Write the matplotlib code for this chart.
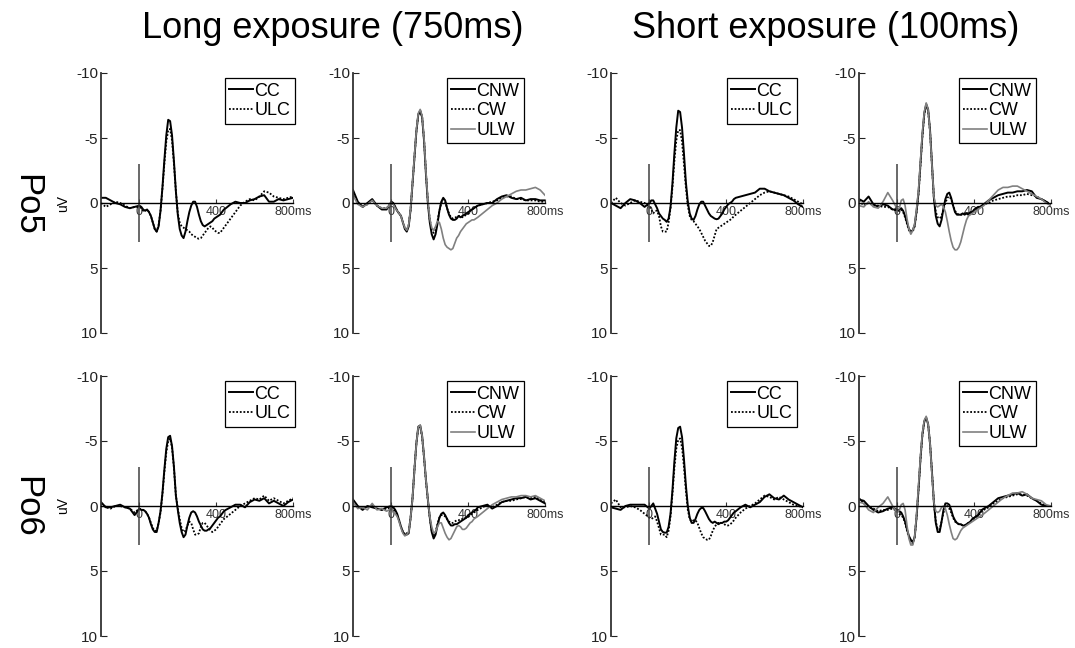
import matplotlib.pyplot as plt

plt.rcParams['font.family'] = ['Liberation Sans', 'DejaVu Sans']
plt.rcParams['axes.unicode_minus'] = False

# time axis of the grand averages (ms)
TIME_MS = [-200, -175, -150, -125, -100, -75, -50, -25,
           0, 10, 20, 30, 40, 50, 60, 70, 80, 90,
           100, 110, 120, 130, 140, 150, 160, 170, 180, 190,
           200, 210, 220, 230, 240, 250, 260, 270, 280, 290,
           300, 310, 320, 330, 340, 350, 360, 370, 380, 390,
           400, 410, 420, 430, 440, 450,
           475, 500, 525, 550, 575, 600, 625, 650, 675, 700, 725, 750, 775, 800]

# ---- Po5, long exposure ----
po5_long_cc = [-0.4, -0.4, -0.2, 0.0, 0.1, 0.3, 0.4, 0.3,
               0.2, 0.3, 0.5, 0.6, 0.5, 0.7, 1.0, 1.5, 2.0, 2.2,
               1.8, 0.6, -1.2, -3.3, -5.2, -6.4, -6.3, -5.2, -3.2, -0.9,
               0.9, 2.0, 2.5, 2.7, 2.2, 1.4, 0.7, 0.2, -0.1, -0.1,
               0.3, 0.9, 1.4, 1.7, 1.8, 1.7, 1.6, 1.5, 1.4, 1.2,
               1.1, 1.0, 0.9, 0.7, 0.5, 0.4,
               0.1, -0.1, 0.0, 0.0, -0.2, -0.3, -0.5, -0.6, -0.1, -0.1, -0.3, -0.2, -0.3, -0.4]
po5_long_ulc = [0.0, 0.3, 0.1, -0.1, 0.0, 0.2, 0.4, 0.3,
                0.3, 0.4, 0.6, 0.6, 0.5, 0.7, 1.0, 1.5, 2.0, 2.2,
                1.7, 0.6, -1.1, -3.0, -4.7, -5.6, -5.7, -4.8, -3.0, -0.9,
                0.8, 1.5, 1.8, 1.9, 2.0, 2.1, 2.2, 2.4, 2.5, 2.6,
                2.7, 2.75, 2.7, 2.5, 2.3, 2.1, 1.9, 1.8, 1.9, 2.1,
                2.2, 2.3, 2.3, 2.1, 1.9, 1.7,
                1.2, 0.7, 0.2, -0.1, -0.3, -0.2, -0.5, -0.9, -0.8, -0.5, -0.4, -0.3, -0.4, -0.5]
po5_long_cnw = [-1.0, -0.1, 0.3, 0.0, -0.3, 0.2, 0.5, 0.5,
                -0.1, 0.0, 0.3, 0.6, 0.8, 1.0, 1.5, 2.0, 2.2, 1.8,
                0.5, -1.5, -3.5, -5.5, -6.8, -7.1, -6.6, -4.8, -2.2, 0.0,
                1.5, 2.4, 2.8, 2.4, 1.6, 0.6, -0.1, -0.4, -0.2, 0.4,
                0.9, 1.2, 1.3, 1.3, 1.2, 1.0, 1.1, 1.0, 0.9, 0.8,
                0.7, 0.6, 0.5, 0.4, 0.3, 0.2,
                0.1, 0.0, 0.0, -0.3, -0.5, -0.6, -0.4, -0.3, -0.4, -0.2, -0.3, -0.3, -0.2, -0.2]
po5_long_cw = [-0.8, 0.0, 0.3, 0.1, -0.2, 0.2, 0.4, 0.4,
               0.0, 0.1, 0.3, 0.6, 0.8, 1.0, 1.5, 1.9, 2.1, 1.7,
               0.5, -1.5, -3.5, -5.5, -6.8, -7.1, -6.6, -4.9, -2.3, -0.1,
               1.3, 2.0, 2.3, 2.1, 1.4, 0.6, 0.0, -0.3, -0.1, 0.4,
               0.8, 1.1, 1.2, 1.1, 1.1, 1.0, 1.0, 1.1, 1.0, 0.9,
               0.8, 0.6, 0.5, 0.4, 0.3, 0.2,
               0.1, 0.0, -0.1, -0.2, -0.4, -0.5, -0.5, -0.3, -0.3, -0.2, -0.2, -0.2, -0.1, -0.1]
po5_long_ulw = [-0.6, 0.1, 0.3, 0.1, -0.2, 0.2, 0.4, 0.4,
                0.0, 0.1, 0.4, 0.6, 0.8, 1.0, 1.5, 1.9, 2.1, 1.7,
                0.4, -1.6, -3.6, -5.6, -6.9, -7.2, -6.7, -5.0, -2.4, -0.2,
                1.2, 1.9, 2.1, 1.8, 1.4, 1.5, 2.0, 2.7, 3.2, 3.4,
                3.5, 3.6, 3.5, 3.1, 2.7, 2.5, 2.2, 2.0, 1.8, 1.6,
                1.5, 1.4, 1.3, 1.3, 1.2, 1.1,
                0.8, 0.5, 0.2, 0.0, -0.3, -0.5, -0.7, -0.9, -1.0, -1.0, -1.1, -1.2, -1.0, -0.6]

# ---- Po5, short exposure ----
po5_short_cc = [0.0, 0.2, 0.4, 0.0, -0.3, -0.2, 0.0, 0.3,
                0.0, -0.2, -0.2, 0.1, 0.4, 0.8, 1.0, 1.2, 1.3, 1.45,
                1.2, 0.3, -1.5, -3.8, -5.8, -7.1, -7.0, -5.8, -3.8, -1.6,
                -0.1, 0.8, 1.2, 1.3, 1.0, 0.5, 0.1, -0.1, -0.1, 0.2,
                0.5, 0.8, 1.0, 1.1, 1.2, 1.25, 1.2, 1.0, 0.8, 0.5,
                0.3, 0.1, 0.0, -0.1, -0.3, -0.4,
                -0.5, -0.6, -0.7, -0.8, -1.1, -1.1, -0.9, -0.8, -0.7, -0.6, -0.4, -0.2, 0.1, 0.3]
po5_short_ulc = [0.0, -0.4, 0.0, 0.2, 0.0, -0.2, -0.1, 0.0,
                 0.3, 0.5, 0.8, 0.6, 0.6, 1.0, 1.8, 2.2, 2.2, 2.2,
                 1.5, 0.4, -1.2, -3.2, -4.8, -5.6, -5.6, -4.7, -3.0, -1.2,
                 0.2, 1.0, 1.3, 1.4, 1.6, 1.8, 2.0, 2.3, 2.6, 2.9,
                 3.1, 3.3, 3.3, 3.0, 2.5, 2.0, 1.9, 1.8, 1.7, 1.6,
                 1.5, 1.4, 1.3, 1.2, 1.0, 0.9,
                 0.6, 0.3, 0.0, -0.3, -0.6, -0.8, -0.9, -0.8, -0.7, -0.6, -0.5, -0.3, -0.1, 0.1]
po5_short_cnw = [-0.3, -0.1, -0.5, 0.1, 0.3, 0.1, 0.2, 0.5,
                 0.5, 0.5, 0.4, 0.6, 1.0, 1.5, 2.0, 2.2, 2.1, 1.7,
                 0.6, -0.8, -3.0, -5.2, -6.9, -7.6, -7.2, -5.6, -3.0, -0.4,
                 1.0, 1.6, 1.8, 1.3, 0.4, -0.3, -0.7, -0.8, -0.4, 0.2,
                 0.7, 0.9, 0.9, 0.9, 0.8, 0.9, 0.8, 0.9, 0.7, 0.7,
                 0.5, 0.4, 0.3, 0.3, 0.2, 0.1,
                 -0.2, -0.4, -0.6, -0.7, -0.8, -0.8, -0.9, -0.9, -1.0, -0.9, -0.4, -0.3, -0.1, 0.2]
po5_short_cw = [-0.2, 0.2, 0.0, 0.2, 0.2, 0.3, 0.3, 0.5,
                0.6, 0.6, 0.5, 0.7, 1.1, 1.6, 2.1, 2.3, 2.2, 1.8,
                0.7, -0.7, -2.9, -5.1, -6.8, -7.5, -7.1, -5.5, -2.9, -0.4,
                0.7, 1.1, 1.2, 1.0, 0.5, 0.0, -0.4, -0.5, -0.3, 0.2,
                0.6, 0.8, 0.9, 0.9, 0.9, 0.8, 0.9, 0.8, 0.8, 0.7,
                0.6, 0.5, 0.4, 0.3, 0.2, 0.1,
                0.0, -0.2, -0.3, -0.4, -0.5, -0.5, -0.6, -0.6, -0.7, -0.6, -0.5, -0.3, -0.1, 0.1]
po5_short_ulw = [0.2, 0.3, -0.1, 0.3, 0.4, -0.1, -0.8, -0.2,
                 0.5, 0.4, -0.2, -0.3, 0.2, 1.2, 2.0, 2.4, 2.1, 1.6,
                 0.4, -1.0, -3.2, -5.4, -7.0, -7.7, -7.2, -5.4, -2.9, -0.5,
                 0.2, 0.3, 0.2, 0.1, 0.3, 0.7, 1.4, 2.2, 2.9, 3.4,
                 3.6, 3.6, 3.4, 3.0, 2.4, 1.8, 1.3, 1.0, 0.9, 0.8,
                 0.7, 0.6, 0.5, 0.4, 0.3, 0.2,
                 -0.2, -0.6, -1.0, -1.2, -1.2, -1.3, -1.3, -1.1, -0.9, -0.7, -0.5, -0.3, 0.0, 0.2]

# ---- Po6, long exposure ----
po6_long_cc = [-0.3, 0.1, 0.1, 0.0, -0.1, 0.1, 0.2, 0.7,
               0.2, 0.3, 0.3, 0.4, 0.6, 0.9, 1.4, 1.8, 2.0, 2.0,
               1.3, 0.4, -1.0, -2.8, -4.4, -5.3, -5.4, -4.6, -3.0, -0.8,
               0.3, 1.3, 2.0, 2.4, 2.2, 1.5, 0.9, 0.5, 0.4, 0.5,
               0.8, 1.2, 1.5, 1.8, 1.9, 1.9, 1.8, 1.7, 1.5, 1.3,
               1.1, 0.9, 0.8, 0.6, 0.4, 0.3,
               0.1, -0.1, -0.1, 0.1, -0.3, -0.5, -0.4, -0.6, -0.2, -0.4, -0.2, 0.0, -0.3, -0.5]
po6_long_ulc = [-0.2, 0.1, 0.2, 0.0, 0.0, 0.1, 0.2, 0.5,
                0.2, 0.3, 0.3, 0.4, 0.6, 0.9, 1.3, 1.7, 1.9, 1.9,
                1.3, 0.5, -0.9, -2.6, -4.1, -5.0, -5.2, -4.5, -2.9, -0.8,
                0.2, 1.0, 1.7, 2.0, 1.9, 1.5, 1.2, 1.3, 1.8, 2.2,
                2.2, 2.1, 1.6, 1.3, 1.3, 1.5, 1.7, 1.9, 2.0, 1.9,
                1.8, 1.6, 1.4, 1.2, 1.0, 0.9,
                0.6, 0.3, 0.0, -0.2, -0.4, -0.6, -0.5, -0.8, -0.4, -0.6, -0.4, -0.2, -0.4, -0.6]
po6_long_cnw = [-0.5, 0.0, 0.3, 0.0, 0.1, 0.2, 0.3, 0.1,
                0.0, 0.1, 0.3, 0.6, 1.1, 1.6, 2.0, 2.2, 2.2, 2.1,
                0.9, -0.6, -2.8, -4.8, -6.1, -6.2, -5.4, -3.8, -2.0, -0.5,
                0.9, 2.0, 2.5, 2.2, 1.5, 0.9, 0.6, 0.5, 0.7, 1.0,
                1.3, 1.5, 1.5, 1.4, 1.4, 1.3, 1.2, 1.1, 1.0, 0.9,
                0.7, 0.6, 0.5, 0.4, 0.3, 0.1,
                0.0, -0.1, 0.2, 0.0, -0.3, -0.4, -0.5, -0.6, -0.6, -0.7, -0.5, -0.6, -0.4, -0.2]
po6_long_cw = [-0.4, 0.1, 0.2, 0.1, 0.0, 0.2, 0.3, 0.2,
               0.1, 0.2, 0.4, 0.7, 1.1, 1.6, 2.0, 2.2, 2.1, 2.0,
               0.9, -0.6, -2.8, -4.8, -6.0, -6.1, -5.3, -3.7, -1.9, -0.4,
               0.9, 1.9, 2.3, 2.0, 1.4, 0.9, 0.7, 0.7, 0.8, 1.0,
               1.2, 1.3, 1.3, 1.2, 1.1, 1.1, 1.0, 1.0, 0.9, 0.9,
               0.8, 0.7, 0.6, 0.5, 0.4, 0.3,
               0.1, -0.1, 0.1, -0.1, -0.3, -0.4, -0.4, -0.5, -0.6, -0.7, -0.6, -0.7, -0.5, -0.3]
po6_long_ulw = [-0.3, 0.2, 0.1, 0.3, -0.2, 0.3, 0.2, 0.4,
                0.2, 0.5, 0.6, 0.8, 1.2, 1.7, 2.1, 2.3, 2.2, 2.0,
                0.9, -0.6, -2.8, -4.8, -6.1, -6.2, -5.4, -3.8, -2.0, -0.5,
                0.8, 1.6, 2.1, 2.0, 1.6, 1.3, 1.3, 1.7, 2.1, 2.4,
                2.6, 2.5, 2.2, 1.9, 1.6, 1.5, 1.6, 1.8, 1.8, 1.7,
                1.5, 1.3, 1.2, 1.0, 0.9, 0.8,
                0.5, 0.2, -0.1, -0.3, -0.5, -0.6, -0.7, -0.7, -0.8, -0.8, -0.7, -0.8, -0.6, -0.4]

# ---- Po6, short exposure ----
po6_short_cc = [0.1, 0.2, 0.3, 0.0, -0.1, -0.1, -0.1, -0.1,
                0.2, 0.0, -0.2, 0.2, 0.6, 1.2, 1.8, 2.0, 2.05, 2.05,
                1.6, 0.6, -1.2, -3.4, -5.2, -6.0, -6.1, -5.3, -3.6, -1.6,
                0.0, 0.9, 1.3, 1.3, 1.0, 0.6, 0.3, 0.15, 0.15, 0.4,
                0.7, 1.0, 1.2, 1.3, 1.2, 1.3, 1.4, 1.3, 1.3, 1.2,
                1.2, 1.1, 0.9, 0.7, 0.5, 0.4,
                0.1, -0.1, 0.1, -0.1, -0.3, -0.7, -0.9, -0.6, -0.5, -0.8, -0.5, -0.3, -0.1, 0.1]
po6_short_ulc = [-0.2, -0.5, 0.1, 0.1, 0.0, 0.1, 0.3, 0.6,
                 0.9, 1.0, 0.9, 0.8, 1.2, 1.7, 2.2, 2.2, 2.2, 2.4,
                 1.9, 0.8, -0.9, -2.9, -4.4, -5.1, -5.2, -4.5, -3.0, -1.2,
                 0.3, 1.0, 1.2, 1.1, 1.1, 1.3, 1.7, 2.1, 2.4, 2.5,
                 2.6, 2.6, 2.3, 1.9, 1.6, 1.4, 1.3, 1.3, 1.3, 1.4,
                 1.5, 1.5, 1.4, 1.3, 1.1, 0.9,
                 0.5, 0.2, 0.0, -0.2, -0.5, -0.8, -0.7, -0.5, -0.7, -0.5, -0.3, -0.1, 0.0, 0.1]
po6_short_cnw = [-0.5, -0.4, 0.0, 0.3, 0.5, 0.4, 0.2, 0.1,
                 0.3, 0.4, 0.5, 0.8, 1.2, 1.8, 2.3, 2.6, 2.8, 2.4,
                 0.8, -1.3, -3.6, -5.5, -6.5, -6.8, -6.3, -4.8, -2.6, -0.3,
                 1.3, 2.0, 2.0, 1.2, 0.3, -0.2, -0.2, -0.1, 0.3, 0.8,
                 1.1, 1.3, 1.4, 1.4, 1.5, 1.5, 1.4, 1.3, 1.2, 1.0,
                 0.9, 0.8, 0.7, 0.5, 0.3, 0.2,
                 0.0, -0.3, -0.6, -0.7, -0.8, -0.9, -1.0, -0.8, -0.9, -0.6, -0.4, -0.1, 0.0, 0.0]
po6_short_cw = [-0.6, -0.2, 0.1, 0.2, 0.4, 0.3, 0.3, 0.2,
                0.4, 0.6, 0.7, 0.9, 1.3, 1.9, 2.4, 2.7, 2.9, 2.4,
                0.8, -1.3, -3.6, -5.4, -6.5, -6.8, -6.3, -4.8, -2.6, -0.3,
                1.2, 1.8, 1.8, 1.2, 0.5, 0.1, 0.0, 0.2, 0.5, 0.9,
                1.2, 1.3, 1.4, 1.4, 1.5, 1.5, 1.4, 1.3, 1.2, 1.1,
                1.0, 0.9, 0.7, 0.6, 0.4, 0.3,
                0.1, -0.2, -0.4, -0.6, -0.7, -0.8, -0.9, -0.9, -0.8, -0.6, -0.4, -0.2, 0.0, 0.0]
po6_short_ulw = [-0.3, -0.2, 0.3, 0.5, 0.1, -0.2, -0.7, 0.0,
                 0.5, 0.3, -0.1, -0.2, 0.3, 1.5, 2.5, 3.0, 3.0, 2.4,
                 0.6, -1.6, -3.8, -5.6, -6.6, -6.9, -6.3, -4.8, -2.4, -0.3,
                 0.4, 0.5, 0.4, 0.1, 0.0, 0.2, 0.7, 1.4, 2.0, 2.5,
                 2.6, 2.5, 2.2, 1.9, 1.7, 1.6, 1.5, 1.4, 1.3, 1.2,
                 1.1, 1.0, 0.9, 0.8, 0.7, 0.6,
                 0.3, 0.0, -0.3, -0.6, -0.8, -1.0, -1.0, -1.1, -0.9, -0.6, -0.5, -0.4, -0.1, 0.0]

COLUMN_TITLES = ['Long exposure (750ms)', 'Short exposure (100ms)']
ROW_LABELS = ['Po5', 'Po6']
X_TICKS = [0, 400, 800]
X_TICK_LABELS = ['0', '400', '800ms']
Y_TICKS = [-10, -5, 0, 5, 10]

STYLE = {
    'CC': dict(color='black', ls='-', lw=1.4),
    'ULC': dict(color='black', ls=(0, (1, 1)), lw=1.3),
    'CNW': dict(color='black', ls='-', lw=1.4),
    'CW': dict(color='black', ls=(0, (1, 1)), lw=1.3),
    'ULW': dict(color='#808080', ls='-', lw=1.2),
}

# each row: list of panels, each a dict label -> series
panels = [
    [{'CC': po5_long_cc, 'ULC': po5_long_ulc},
     {'CNW': po5_long_cnw, 'CW': po5_long_cw, 'ULW': po5_long_ulw},
     {'CC': po5_short_cc, 'ULC': po5_short_ulc},
     {'CNW': po5_short_cnw, 'CW': po5_short_cw, 'ULW': po5_short_ulw}],
    [{'CC': po6_long_cc, 'ULC': po6_long_ulc},
     {'CNW': po6_long_cnw, 'CW': po6_long_cw, 'ULW': po6_long_ulw},
     {'CC': po6_short_cc, 'ULC': po6_short_ulc},
     {'CNW': po6_short_cnw, 'CW': po6_short_cw, 'ULW': po6_short_ulw}],
]

W, H = 1075, 648
col_left = [101, 353, 611, 859]
row_top = [73, 376]
ax_w, ax_h = 192, 260
legend_right = [295, 524, 797, 1036]
legend_top_off = 5

fig = plt.figure(figsize=(W / 100, H / 100), dpi=100)

for r in range(2):
    for c in range(4):
        left, top = col_left[c], row_top[r]
        ax = fig.add_axes([left / W, 1 - (top + ax_h) / H, ax_w / W, ax_h / H])
        for name, vals in panels[r][c].items():
            ax.plot(TIME_MS, vals, label=name, **STYLE[name])
        ax.vlines(0, -3, 3, color='#404040', lw=1.1)

        ax.set_xlim(-200, 800)
        ax.set_ylim(10, -10)
        for s in ['top', 'right']:
            ax.spines[s].set_visible(False)
        ax.spines['left'].set_color('#333333')
        ax.spines['left'].set_linewidth(1.3)
        ax.spines['bottom'].set_position(('data', 0))
        ax.spines['bottom'].set_linewidth(1.0)
        ax.set_xticks(X_TICKS)
        ax.set_xticklabels(X_TICK_LABELS)
        ax.set_yticks(Y_TICKS)
        ax.tick_params(axis='x', direction='in', length=3, pad=2,
                       labelsize=9, colors='#333333')
        ax.tick_params(axis='y', direction='in', length=4, pad=2,
                       labelsize=11, colors='#222222')
        ax.patch.set_alpha(0)

        if c == 0:
            ax.set_ylabel('uV', fontsize=10)
            ax.yaxis.set_label_coords(-0.16, 0.5)

        leg = ax.legend(loc='upper right',
                        bbox_to_anchor=(legend_right[c] / W, 1 - (top + legend_top_off) / H),
                        bbox_transform=fig.transFigure, fontsize=13,
                        handlelength=1.3, handletextpad=0.1, borderpad=0.25,
                        labelspacing=0.15, borderaxespad=0, fancybox=False,
                        framealpha=1, edgecolor='black')
        leg.get_frame().set_linewidth(0.9)

fig.text(333 / W, 1 - 38 / H, COLUMN_TITLES[0], fontsize=26, ha='center', va='baseline')
fig.text(826 / W, 1 - 38 / H, COLUMN_TITLES[1], fontsize=26, ha='center', va='baseline')
fig.text(27 / W, 1 - 205 / H, ROW_LABELS[0], fontsize=25, rotation=-90, ha='center', va='center')
fig.text(27 / W, 1 - 507 / H, ROW_LABELS[1], fontsize=25, rotation=-90, ha='center', va='center')

fig.savefig('out.png', dpi=100)
